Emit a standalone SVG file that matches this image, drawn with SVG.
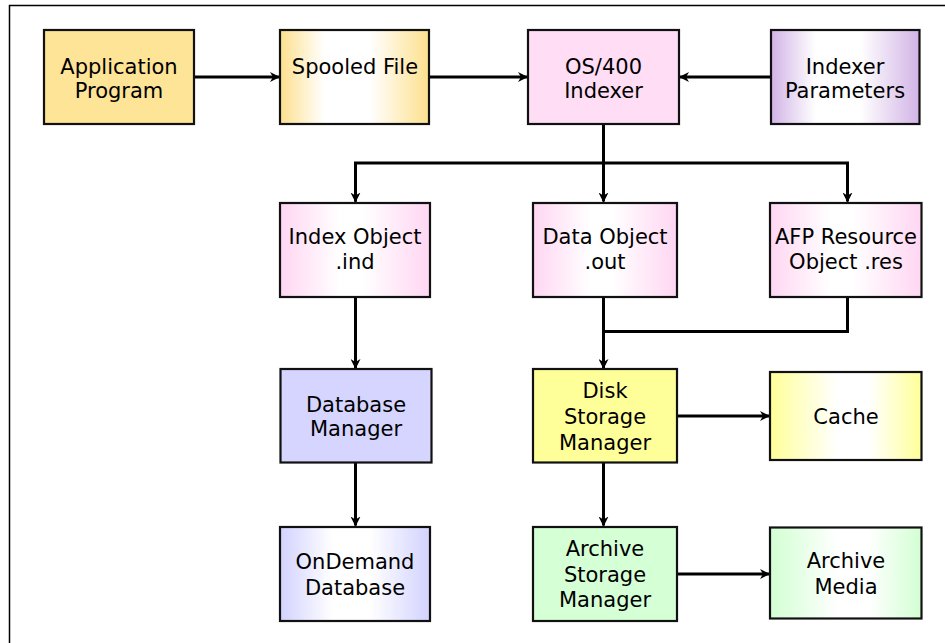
<svg xmlns="http://www.w3.org/2000/svg" width="945" height="643" viewBox="0 0 945 643">
<defs>
<linearGradient id="gGold" x1="0" y1="0" x2="1" y2="0">
<stop offset="0" stop-color="#FDE08E"/><stop offset="0.3" stop-color="#FFFFFF"/><stop offset="0.6" stop-color="#FFFFFF"/><stop offset="1" stop-color="#FDE08E"/>
</linearGradient>
<linearGradient id="gPurple" x1="0" y1="0" x2="1" y2="0">
<stop offset="0" stop-color="#D2B4E6"/><stop offset="0.3" stop-color="#FFFFFF"/><stop offset="0.6" stop-color="#FFFFFF"/><stop offset="1" stop-color="#D2B4E6"/>
</linearGradient>
<linearGradient id="gPink" x1="0" y1="0" x2="1" y2="0">
<stop offset="0" stop-color="#FFD6F2"/><stop offset="0.4" stop-color="#FFFFFF"/><stop offset="0.55" stop-color="#FFFFFF"/><stop offset="1" stop-color="#FFD6F2"/>
</linearGradient>
<linearGradient id="gLav" x1="0" y1="0" x2="1" y2="0">
<stop offset="0" stop-color="#D2D2FF"/><stop offset="0.35" stop-color="#FFFFFF"/><stop offset="0.6" stop-color="#FFFFFF"/><stop offset="1" stop-color="#D2D2FF"/>
</linearGradient>
<linearGradient id="gYellow" x1="0" y1="0" x2="1" y2="0">
<stop offset="0" stop-color="#FFFF99"/><stop offset="0.45" stop-color="#FFFFFF"/><stop offset="0.65" stop-color="#FFFFFF"/><stop offset="1" stop-color="#FFFF99"/>
</linearGradient>
<linearGradient id="gGreen" x1="0" y1="0" x2="1" y2="0">
<stop offset="0" stop-color="#D2FFD2"/><stop offset="0.45" stop-color="#FFFFFF"/><stop offset="0.65" stop-color="#FFFFFF"/><stop offset="1" stop-color="#D2FFD2"/>
</linearGradient>
<marker id="arr" viewBox="0 0 10 10" refX="9" refY="5" markerWidth="10" markerHeight="10" markerUnits="userSpaceOnUse" orient="auto">
<path d="M0,0 L10,5 L0,10 L3,5 z" fill="#000"/>
</marker>
<style>
.box{stroke:#111;stroke-width:2.2}
.t{font-family:"DejaVu Sans",Verdana,sans-serif;font-size:21px;fill:#000;text-anchor:middle}
.c{fill:none;stroke:#000;stroke-width:3}
.a{marker-end:url(#arr)}
</style>
</defs>
<rect x="0" y="0" width="945" height="643" fill="#fff"/>
<path d="M9.5,643 V5.5 H945" fill="none" stroke="#000" stroke-width="1.5"/>

<g id="connectors">
<line class="c a" x1="194" y1="77" x2="279" y2="77"/>
<line class="c a" x1="429" y1="77" x2="527" y2="77"/>
<line class="c a" x1="771" y1="77" x2="680" y2="77"/>
<line class="c" x1="603.5" y1="124" x2="603.5" y2="163"/>
<path class="c" d="M355.5,201.5 V163 H847.5 V201.5" marker-end="url(#arr)"/>
<line class="c" x1="355.5" y1="163" x2="355.5" y2="201.5" marker-end="url(#arr)"/>
<line class="c a" x1="603.5" y1="163" x2="603.5" y2="201.5"/>
<line class="c a" x1="355.5" y1="297" x2="355.5" y2="368"/>
<line class="c a" x1="603.5" y1="297" x2="603.5" y2="368"/>
<path class="c" d="M847.5,297 V331.5 H603.5"/>
<line class="c a" x1="355.5" y1="462.5" x2="355.5" y2="525.5"/>
<line class="c a" x1="603.5" y1="462.5" x2="603.5" y2="525.5"/>
<line class="c a" x1="677" y1="416" x2="769" y2="416"/>
<line class="c a" x1="677" y1="574" x2="769" y2="574"/>
</g>

<g id="application-program">
<rect class="box" x="44" y="30" width="150" height="94" fill="#FEE497"/>
<text class="t" x="119" y="74">Application</text>
<text class="t" x="119" y="97.5">Program</text>
</g>
<g id="spooled-file">
<rect class="box" x="280" y="30" width="149" height="94" fill="url(#gGold)"/>
<text class="t" x="355" y="74">Spooled File</text>
</g>
<g id="os400-indexer">
<rect class="box" x="528" y="30" width="151" height="94" fill="#FFDDF5"/>
<text class="t" x="603.5" y="74">OS/400</text>
<text class="t" x="603.5" y="98">Indexer</text>
</g>
<g id="indexer-parameters">
<rect class="box" x="771" y="30" width="148.5" height="94" fill="url(#gPurple)"/>
<text class="t" x="845" y="74">Indexer</text>
<text class="t" x="845" y="98">Parameters</text>
</g>

<g id="index-object">
<rect class="box" x="280" y="203" width="150" height="94" fill="url(#gPink)"/>
<text class="t" x="355" y="244">Index Object</text>
<text class="t" x="355" y="269">.ind</text>
</g>
<g id="data-object">
<rect class="box" x="533" y="203" width="144" height="94" fill="url(#gPink)"/>
<text class="t" x="605" y="244">Data Object</text>
<text class="t" x="605" y="269">.out</text>
</g>
<g id="afp-resource-object">
<rect class="box" x="770" y="203" width="151.5" height="94" fill="url(#gPink)"/>
<text class="t" x="846" y="244">AFP Resource</text>
<text class="t" x="846" y="269">Object .res</text>
</g>

<g id="database-manager">
<rect class="box" x="280.5" y="369" width="151" height="93.5" fill="#D5D5FF"/>
<text class="t" x="356" y="412">Database</text>
<text class="t" x="356" y="435.5">Manager</text>
</g>
<g id="disk-storage-manager">
<rect class="box" x="533" y="369" width="144" height="93.5" fill="#FFFF99"/>
<text class="t" x="605" y="397.5">Disk</text>
<text class="t" x="605" y="424">Storage</text>
<text class="t" x="605" y="450">Manager</text>
</g>
<g id="cache">
<rect class="box" x="770" y="372" width="151.5" height="88" fill="url(#gYellow)"/>
<text class="t" x="846" y="424">Cache</text>
</g>

<g id="ondemand-database">
<rect class="box" x="280" y="527" width="150" height="94" fill="url(#gLav)"/>
<text class="t" x="355" y="569">OnDemand</text>
<text class="t" x="355" y="595">Database</text>
</g>
<g id="archive-storage-manager">
<rect class="box" x="533" y="527" width="144" height="94" fill="#D5FFD5"/>
<text class="t" x="605" y="555.5">Archive</text>
<text class="t" x="605" y="582">Storage</text>
<text class="t" x="605" y="607">Manager</text>
</g>
<g id="archive-media">
<rect class="box" x="770" y="527.5" width="151.5" height="91" fill="url(#gGreen)"/>
<text class="t" x="846" y="568">Archive</text>
<text class="t" x="846" y="594">Media</text>
</g>
</svg>
